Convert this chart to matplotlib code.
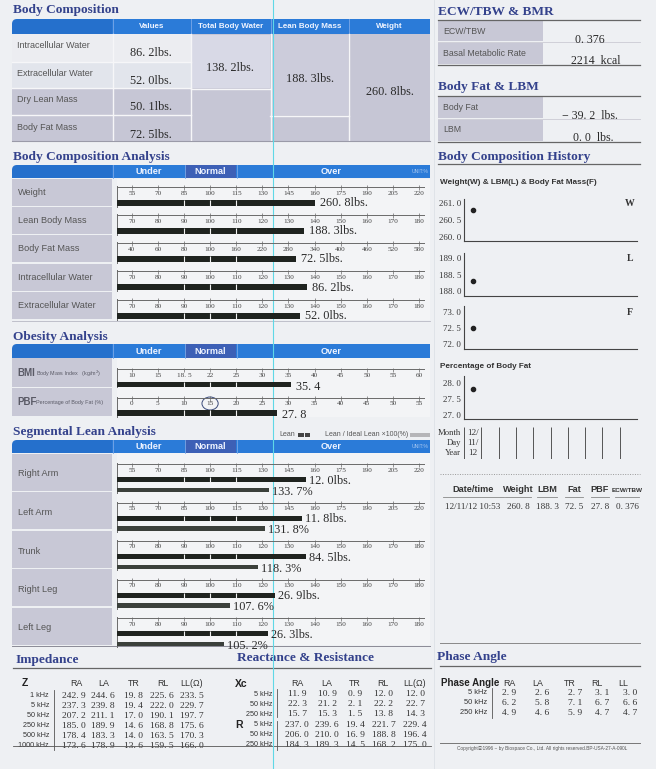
import numpy as np
import matplotlib.pyplot as plt
from matplotlib.patches import Rectangle, FancyBboxPatch, Ellipse

W, H = 656, 769

# ---------------- data ----------------
comp_labels = ["Intracellular Water", "Extracellular Water", "Dry Lean Mass", "Body Fat Mass"]
comp_values = [86.2, 52.0, 50.1, 72.5]
total_body_water = 138.2
lean_body_mass = 188.3
body_weight = 260.8

ecw_tbw = 0.376
bmr_kcal = 2214
fat_control = -39.2
lbm_control = 0.0

scale_weight = [55, 70, 85, 100, 115, 130, 145, 160, 175, 190, 205, 220]
scale_lean = [70, 80, 90, 100, 110, 120, 130, 140, 150, 160, 170, 180]
scale_fat = [40, 60, 80, 100, 160, 220, 280, 340, 400, 460, 520, 580]
scale_bmi = [10, 15, 18.5, 22, 25, 30, 35, 40, 45, 50, 55, 60]
scale_pbf = [0, 5, 10, 15, 20, 25, 30, 35, 40, 45, 50, 55]

bca_labels = ["Weight", "Lean Body Mass", "Body Fat Mass", "Intracellular Water", "Extracellular Water"]
bca_values = [260.8, 188.3, 72.5, 86.2, 52.0]
bca_pct = [160.5, 136.1, 297.0, 137.0, 134.4]
bca_scales = [scale_weight, scale_lean, scale_fat, scale_lean, scale_lean]

bmi = 35.4
pbf = 27.8

seg_labels = ["Right Arm", "Left Arm", "Trunk", "Right Leg", "Left Leg"]
seg_lean = [12.0, 11.8, 84.5, 26.9, 26.3]
seg_lean_pct = [155.0, 152.6, 136.7, 125.0, 122.2]
seg_ideal_pct = [133.7, 131.8, 118.3, 107.6, 105.2]
seg_scales = [scale_weight, scale_weight, scale_lean, scale_lean, scale_lean]

hist_month = ["12/"]
hist_day = ["11/"]
hist_year = ["12"]
hist_weight = [260.8]
hist_lbm = [188.3]
hist_fat = [72.5]
hist_pbf = [27.8]
hist_time = "12/11/12 10:53"

segments = ["RA", "LA", "TR", "RL", "LL"]
z_freqs = ["1 kHz", "5 kHz", "50 kHz", "250 kHz", "500 kHz", "1000 kHz"]
z_values = [[242.9, 244.6, 19.8, 225.6, 233.5],
            [237.3, 239.8, 19.4, 222.0, 229.7],
            [207.2, 211.1, 17.0, 190.1, 197.7],
            [185.0, 189.9, 14.6, 168.8, 175.6],
            [178.4, 183.3, 14.0, 163.5, 170.3],
            [173.6, 178.9, 13.6, 159.5, 166.0]]
xr_freqs = ["5 kHz", "50 kHz", "250 kHz"]
xc_values = [[11.9, 10.9, 0.9, 12.0, 12.0],
             [22.3, 21.2, 2.1, 22.2, 22.7],
             [15.7, 15.3, 1.5, 13.8, 14.3]]
r_values = [[237.0, 239.6, 19.4, 221.7, 229.4],
            [206.0, 210.0, 16.9, 188.8, 196.4],
            [184.3, 189.3, 14.5, 168.2, 175.0]]
phase_values = [[2.9, 2.6, 2.7, 3.1, 3.0],
                [6.2, 5.8, 7.1, 6.7, 6.6],
                [4.9, 4.6, 5.9, 4.7, 4.7]]

# ---------------- style ----------------
SERIF = "Liberation Serif"
SANS = "Liberation Sans"
PAGE = "#eef0f3"
TITLE = "#34428c"
BLUE = "#2b7bd8"
BLUE_L = "#2570cc"
BLUE_N = "#3d60b6"
CELL = "#c8c8d6"
LIGHT = "#ecedf1"
BAR = "#1f231f"
BAR2 = "#3b403b"
INK = "#2a2a2a"
GRAYTXT = "#555555"

fig = plt.figure(figsize=(W / 100, H / 100), dpi=100)
fig.patch.set_facecolor(PAGE)
bg = fig.add_axes([0, 0, 1, 1])
bg.set_xlim(0, W)
bg.set_ylim(H, 0)
bg.axis("off")


def px_rect(x0, y0, x1, y1):
    return [x0 / W, 1 - y1 / H, (x1 - x0) / W, (y1 - y0) / H]


def box(x0, y0, x1, y1, color, z=1):
    bg.add_patch(Rectangle((x0, y0), x1 - x0, y1 - y0, facecolor=color, edgecolor="none", zorder=z))


def hline(y, x0, x1, color="#666", lw=0.8):
    bg.plot([x0, x1], [y, y], color=color, lw=lw, zorder=3)


def vline(x, y0, y1, color="#666", lw=0.8):
    bg.plot([x, x], [y0, y1], color=color, lw=lw, zorder=3)


def title(x, y, s):
    bg.text(x, y, s, family=SERIF, weight="bold", size=9.6, color=TITLE, va="center", ha="left")


def num(v, nd=1):
    return f"{v:.{nd}f}".replace(".", ". ")


def tick_txt(t):
    return str(int(t)) if float(t).is_integer() else num(t)


def header(y0, y1, cols=None):
    bg.add_patch(FancyBboxPatch((12, y0), 60, y1 - y0, boxstyle="round,pad=0,rounding_size=5",
                                facecolor=BLUE_L, edgecolor="none", zorder=2))
    box(12, (y0 + y1) / 2, 60, y1, BLUE_L, z=2)
    box(40, y0, 112, y1, BLUE_L, z=2)
    box(112, y0, 430, y1, BLUE, z=2)
    if cols is None:
        box(185, y0, 236, y1, BLUE_N, z=2)
        vline(184.5, y0, y1, "#7aa8e8", 0.6)
        vline(236.5, y0, y1, "#7aa8e8", 0.6)
        vline(112.5, y0, y1, "#7aa8e8", 0.6)
        yc = (y0 + y1) / 2
        for x, s in [(148.5, "Under"), (210.5, "Normal"), (331, "Over")]:
            bg.text(x, yc, s, family=SANS, weight="bold", size=6.6, color="#eef3ff",
                    ha="center", va="center", zorder=4)


# ---------------- Body Composition table ----------------
title(13, 10, "Body Composition")
header(19, 34, cols=True)
for x in [112.5, 191, 271, 349]:
    vline(x, 19, 34, "#7aa8e8", 0.6)
for x, s in [(152, "Values"), (231, "Total Body Water"), (310, "Lean Body Mass"), (389, "Weight")]:
    bg.text(x, 26.5, s, family=SANS, weight="bold", size=5.8, color="#eef3ff", ha="center", va="center", zorder=4)

row_edges = [34, 62, 88, 115, 141]
box(12, 34, 430, 141, "#c6c6d5")
box(12, 34, 191, 62, LIGHT)
box(12, 62, 191, 88, "#e2e5ec")
box(192, 35, 270, 88, "#d8d9e6")
box(272, 35, 348, 115, "#ccccdb")
for y in row_edges[1:-1]:
    hline(y, 12, 191, "#f6f6f8", 1.0)
hline(88.5, 191, 270, "#f6f6f8", 1.0)
hline(115.5, 270, 349, "#f6f6f8", 1.0)
for x in [112.5, 191, 271, 349]:
    vline(x, 34, 141, "#f6f6f8", 1.0)
hline(141, 12, 430, "#9a9aa8", 0.8)
for i, (lab, v) in enumerate(zip(comp_labels, comp_values)):
    bg.text(17, row_edges[i] + 12, lab, family=SANS, size=6.5, color=GRAYTXT, va="center", zorder=4)
    bg.text(151, row_edges[i] + 19.5, num(v) + "lbs.", family=SERIF, size=8.8, color=INK,
            ha="center", va="center", zorder=4)
bg.text(230, 68, num(total_body_water) + "lbs.", family=SERIF, size=8.8, color=INK, ha="center", va="center", zorder=4)
bg.text(310, 79, num(lean_body_mass) + "lbs.", family=SERIF, size=8.8, color=INK, ha="center", va="center", zorder=4)
bg.text(390, 92, num(body_weight) + "lbs.", family=SERIF, size=8.8, color=INK, ha="center", va="center", zorder=4)

# ---------------- bar rows ----------------
IDX0 = (117 - 131.7) / 26.12
IDX1 = (425 - 131.7) / 26.12
PX_IDX = 1 / 26.12


def bar_row(top, height, scale, axis_dy, label_dy):
    ax = fig.add_axes(px_rect(117, top, 425, top + height))
    ax.set_xlim(IDX0, IDX1)
    ax.set_ylim(height, 0)
    ax.axis("off")
    idx = np.arange(len(scale))
    ax.plot([IDX0, IDX1], [axis_dy, axis_dy], color="#6a6a6a", lw=0.7)
    ax.vlines(idx, axis_dy - 1.5, axis_dy + 3, color="#6a6a6a", lw=0.5)
    ax.plot([IDX0, IDX0], [axis_dy - 1, height], color="#6a6a6a", lw=0.7, clip_on=False)
    for i, t in zip(idx, scale):
        ax.text(i, label_dy, tick_txt(t), family=SERIF, size=5.2, color="#444", ha="center", va="center")
    return ax


def draw_bar(ax, scale, value, y0, y1, color, dividers=True):
    end = np.interp(value, scale, np.arange(len(scale)))
    ax.barh((y0 + y1) / 2, end - IDX0, left=IDX0, height=y1 - y0, color=color, zorder=2)
    if dividers:
        ax.vlines([2, 3, 4], y0, y1, color="#f2f2f2", lw=0.8, zorder=3)
    return end


# Body Composition Analysis
title(13, 157, "Body Composition Analysis")
header(165, 178)
bg.text(428, 171.5, "UNIT:%", family=SANS, size=3.6, color="#a9c8f0", ha="right", va="center", zorder=4)
bca_tops = [179, 207, 235, 263.5, 292]
box(117, 179, 430, 320, "#f3f4f6", z=0.5)
for top, lab, v, pct, sc in zip(bca_tops, bca_labels, bca_values, bca_pct, bca_scales):
    box(12, top, 112, top + 27, CELL)
    bg.text(18, top + 13.7, lab, family=SANS, size=6.6, color=GRAYTXT, va="center", zorder=4)
    ax = bar_row(top, 28, sc, 7.7, 14.2)
    end = draw_bar(ax, sc, pct, 21, 26.6, BAR)
    ax.text(end + 5 * PX_IDX, 24.3, num(v) + "lbs.", family=SERIF, size=8.8, color=INK, va="center")
hline(320.5, 12, 430, "#b8b8c4", 0.6)

# Obesity Analysis
title(13, 337, "Obesity Analysis")
header(344, 358)
box(117, 358, 430, 417, "#f3f4f6", z=0.5)
box(12, 358, 112, 386.5, CELL)
box(12, 388, 112, 416, CELL)
bg.text(17, 373, "BMI", family=SANS, weight="bold", size=7, color="#5a5a66", va="center", zorder=4)
bg.text(36, 373.5, "Body Mass Index   (kg/m$^2$)", family=SANS, size=3.9, color="#5a5a66", va="center", zorder=4)
bg.text(17, 402, "PBF", family=SANS, weight="bold", size=7, color="#5a5a66", va="center", zorder=4)
bg.text(36, 402.5, "Percentage of Body Fat (%)", family=SANS, size=3.9, color="#5a5a66", va="center", zorder=4)
ax = bar_row(358, 29, scale_bmi, 11, 17.5)
end = draw_bar(ax, scale_bmi, bmi, 24, 29, BAR)
ax.text(end + 5 * PX_IDX, 29.5, num(bmi), family=SERIF, size=8.8, color=INK, va="center")
ax = bar_row(388, 29, scale_pbf, 9.7, 15.3)
end = draw_bar(ax, scale_pbf, pbf, 22, 27.7, BAR)
ax.text(end + 5 * PX_IDX, 26.5, num(pbf), family=SERIF, size=8.8, color=INK, va="center")
ax.add_patch(Ellipse((3, 15.5), 0.62, 13, facecolor="none", edgecolor="#3a4a7a", lw=0.7))

# Segmental Lean Analysis
title(13, 432, "Segmental Lean Analysis")
bg.text(279, 435, "Lean", family=SANS, size=5, color=GRAYTXT, va="center")
box(298, 432.5, 303.5, 437, "#444")
box(304.5, 432.5, 310, 437, "#444")
bg.text(325, 435, "Lean / Ideal Lean \u00d7100(%)", family=SANS, size=5, color=GRAYTXT, va="center")
box(410, 432.5, 430, 437, "#b5b5b8")
header(440, 453)
bg.text(428, 446.5, "UNIT:%", family=SANS, size=3.6, color="#a9c8f0", ha="right", va="center", zorder=4)
seg_tops = [453, 491.5, 530, 568.5, 607]
box(117, 453, 430, 645, "#f3f4f6", z=0.5)
for top, lab, lean, lp, ip, sc in zip(seg_tops, seg_labels, seg_lean, seg_lean_pct, seg_ideal_pct, seg_scales):
    box(12, top + 0.5, 112, top + 37.5, CELL)
    bg.text(18, top + 21, lab, family=SANS, size=6.6, color=GRAYTXT, va="center", zorder=4)
    ax = bar_row(top, 40, sc, 11, 17)
    end = draw_bar(ax, sc, lp, 24, 29, BAR)
    ax.text(end + 3 * PX_IDX, 27.7, num(lean) + "lbs.", family=SERIF, size=8.8, color=INK, va="center")
    end = draw_bar(ax, sc, ip, 34.7, 39.3, BAR2, dividers=False)
    ax.text(end + 3 * PX_IDX, 38.7, num(ip) + "%", family=SERIF, size=8.8, color=INK, va="center")
hline(645.5, 12, 430, "#8a8a96", 0.7)

# ---------------- right column ----------------
vline(433.5, 0, H, "#dde1e6", 0.6)
title(438, 12, "ECW/TBW & BMR")
hline(19.5, 438, 640, "#666", 0.9)
box(438, 20.5, 543, 41, CELL)
box(438, 43, 543, 63.5, CELL)
hline(42, 438, 640, "#d0d0d8", 0.7)
hline(64.5, 438, 640, "#666", 0.9)
bg.text(443, 31, "ECW/TBW", family=SANS, size=6.3, color=GRAYTXT, va="center")
bg.text(443, 53, "Basal Metabolic Rate", family=SANS, size=6.3, color=GRAYTXT, va="center")
bg.text(590, 40, num(ecw_tbw, 3), family=SERIF, size=8.6, color=INK, ha="center", va="center")
bg.text(596, 61, f"{bmr_kcal}  kcal", family=SERIF, size=8.6, color=INK, ha="center", va="center")

title(438, 87, "Body Fat & LBM")
hline(96, 438, 640, "#666", 0.9)
box(438, 97, 543, 118, CELL)
box(438, 120, 543, 141, CELL)
hline(119, 438, 640, "#d0d0d8", 0.7)
hline(142, 438, 640, "#666", 0.9)
bg.text(443, 108, "Body Fat", family=SANS, size=6.3, color=GRAYTXT, va="center")
bg.text(443, 130, "LBM", family=SANS, size=6.3, color=GRAYTXT, va="center")
bg.text(590, 116, ("\u2212 " if fat_control < 0 else "") + num(abs(fat_control)) + "  lbs.",
        family=SERIF, size=8.6, color=INK, ha="center", va="center")
bg.text(593, 138, num(lbm_control) + "  lbs.", family=SERIF, size=8.6, color=INK, ha="center", va="center")

title(438, 157, "Body Composition History")
hline(164, 438, 640, "#666", 0.9)
bg.text(440, 183, "Weight(W) & LBM(L) & Body Fat Mass(F)", family=SANS, weight="bold", size=5.9,
        color="#333", va="center")
bg.text(440, 367, "Percentage of Body Fat", family=SANS, weight="bold", size=5.9, color="#333", va="center")


def hist_axes(top, bottom, ylim, ticks, values, letter=None):
    ax = fig.add_axes(px_rect(464, top, 637, bottom))
    ax.set_xlim(-0.5, 9.5)
    ax.set_ylim(*ylim)
    ax.patch.set_alpha(0)
    for s in ["top", "right"]:
        ax.spines[s].set_visible(False)
    for s in ["left", "bottom"]:
        ax.spines[s].set_color("#444")
        ax.spines[s].set_linewidth(0.8)
    ax.set_xticks([])
    ax.set_yticks(ticks)
    ax.set_yticklabels([num(t) for t in ticks], family=SERIF, size=6.4, color="#333")
    ax.tick_params(axis="y", length=0, pad=2)
    ax.plot(np.arange(len(values)), values, "o", color="#222", ms=3)
    if letter:
        ax.text(9.1, ticks[-1], letter, family=SERIF, weight="bold", size=7, color="#333", ha="center", va="center")
    return ax


hist_axes(199, 240.7, (259.875, 261.12), [260.0, 260.5, 261.0], hist_weight, "W")
hist_axes(253, 295.7, (187.867, 189.16), [188.0, 188.5, 189.0], hist_lbm, "L")
hist_axes(306, 349, (71.83, 73.2), [72.0, 72.5, 73.0], hist_fat, "F")
hist_axes(376, 419, (26.887, 28.2), [27.0, 27.5, 28.0], hist_pbf)

dax = fig.add_axes(px_rect(464, 427, 637, 459))
dax.set_xlim(-0.5, 9.5)
dax.set_ylim(32, 0)
dax.axis("off")
dax.vlines(np.arange(11) - 0.5, 0, 32, color="#555", lw=0.7)
for i, (m, d, yr) in enumerate(zip(hist_month, hist_day, hist_year)):
    for yy, s in [(6, m), (16, d), (26, yr)]:
        dax.text(i, yy, s, family=SERIF, size=6.6, color="#333", ha="center", va="center")
for yy, s in [(433, "Month"), (443, "Day"), (453, "Year")]:
    bg.text(461, yy, s, family=SERIF, size=6.2, color="#333", ha="right", va="center")

bg.plot([440, 640], [474, 474], color="#999", lw=0.7, ls=(0, (1, 1.5)))
hist_cols = [(473, "Date/time", hist_time, 61), (518, "Weight", num(hist_weight[-1]), 26),
             (547, "LBM", num(hist_lbm[-1]), 20), (574, "Fat", num(hist_fat[-1]), 18),
             (600, "PBF", num(hist_pbf[-1]), 18), (627, "ECW/TBW", num(ecw_tbw, 3), 24)]
for x, h, v, w in hist_cols:
    size = 4.6 if h == "ECW/TBW" else 6.6
    bg.text(x, 490, h, family=SANS, weight="bold", size=size, color="#333", ha="center", va="center")
    hline(496.5, x - w / 2, x + w / 2, "#888", 0.6)
    bg.text(x, 507, v, family=SERIF, size=6.6, color="#333", ha="center", va="center")

# Phase angle
hline(643, 440, 640, "#888", 0.7)
title(437, 657, "Phase Angle")
hline(666, 440, 640, "#666", 0.9)
bg.text(441, 683, "Phase Angle", family=SANS, weight="bold", size=7, color="#222", va="center")
for x, s in zip([509, 538, 570, 597, 623], segments):
    bg.text(x, 683, s, family=SANS, size=6.4, color="#333", ha="center", va="center")
vline(492, 688, 718, "#555", 0.6)
for r, (f, vals) in enumerate(zip(xr_freqs, phase_values)):
    y = 693 + 10 * r
    bg.text(487, y, f, family=SANS, size=5.4, color="#333", ha="right", va="center")
    for x, v in zip([509, 542, 575, 602, 630], vals):
        bg.text(x, y, num(v), family=SERIF, size=6.8, color="#333", ha="center", va="center")
hline(743, 440, 640, "#777", 0.7)
bg.text(542, 748.5, "Copyright\u24d21996 ~ by Biospace Co., Ltd. All rights reserved.BP-USA-27-A-090L",
        family=[SANS, "Noto Sans CJK JP", "DejaVu Sans"], size=3.4, color="#555", ha="center", va="center")

# ---------------- Impedance & Reactance ----------------
title(15, 660, "Impedance")
title(237, 658, "Reactance & Resistance")
hline(668, 13, 431, "#666", 0.9)

bg.text(22, 683, "Z", family=SANS, weight="bold", size=7.5, color="#222", va="center")
for x, s in zip([76, 104, 134, 163, 192], segments[:-1] + ["LL(\u03a9)"]):
    bg.text(x, 683, s, family=SANS, size=6.4, color="#333", ha="center", va="center")
vline(54, 690, 750, "#555", 0.6)
for r, (f, vals) in enumerate(zip(z_freqs, z_values)):
    y = 695.7 + 10 * r
    bg.text(49, y, f, family=SANS, size=5.2, color="#333", ha="right", va="center")
    for x, v in zip([74, 103, 133, 162, 192], vals):
        bg.text(x, y, num(v), family=SERIF, size=6.8, color="#333", ha="center", va="center")

bg.text(235, 684, "Xc", family=SANS, weight="bold", size=7.5, color="#222", va="center")
bg.text(235, 725, "R", family=SANS, weight="bold", size=7.5, color="#222", va="center")
for x, s in zip([297, 327, 355, 383, 415], segments[:-1] + ["LL(\u03a9)"]):
    bg.text(x, 683, s, family=SANS, size=6.4, color="#333", ha="center", va="center")
vline(277, 689, 717, "#555", 0.6)
vline(277, 721, 750, "#555", 0.6)
for block, y0 in [(xc_values, 694.3), (r_values, 725)]:
    for r, (f, vals) in enumerate(zip(xr_freqs, block)):
        y = y0 + 10 * r
        bg.text(272, y, f, family=SANS, size=5.2, color="#333", ha="right", va="center")
        for x, v in zip([297, 327, 355, 384, 415], vals):
            bg.text(x, y, num(v), family=SERIF, size=6.8, color="#333", ha="center", va="center")
hline(745.5, 13, 431, "#555", 0.6)

# scanner line
vline(273.3, 0, H, "#5fd8e6", 0.8)

fig.savefig("out.png", dpi=100, facecolor=PAGE)
